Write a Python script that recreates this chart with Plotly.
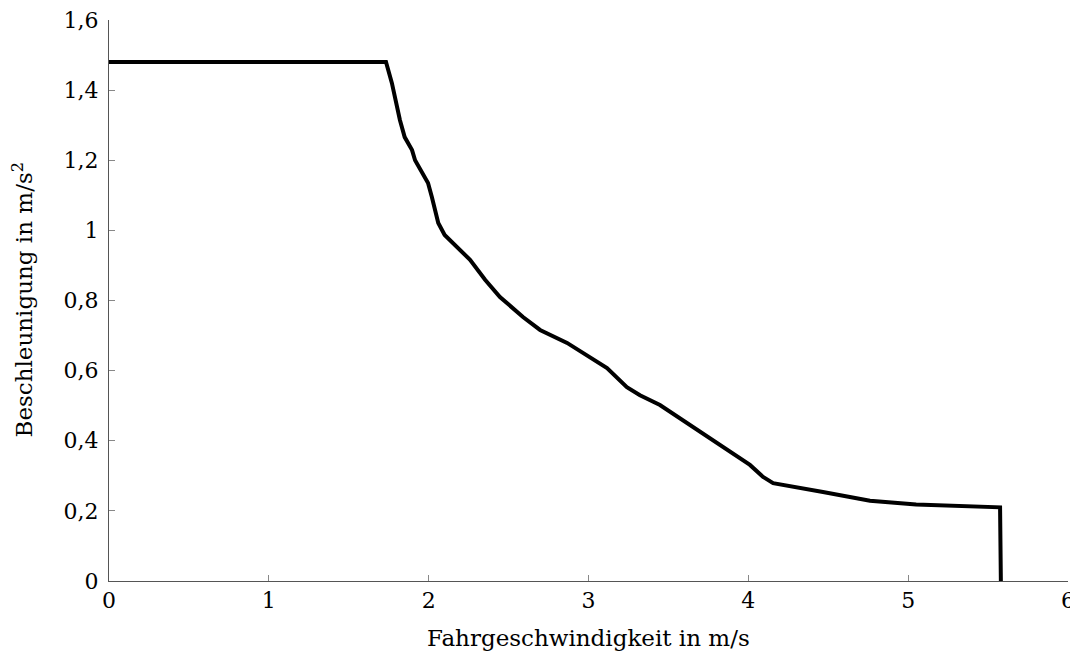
import plotly.graph_objects as go

speed = [0.0, 1.733, 1.77, 1.82, 1.85, 1.896, 1.915, 1.996, 2.02, 2.06, 2.10, 2.196,
         2.259, 2.353, 2.446, 2.59, 2.697, 2.866, 3.01, 3.116, 3.24, 3.322, 3.447,
         3.635, 3.842, 4.01, 4.092, 4.155, 4.467, 4.761, 5.05, 5.57, 5.575, 5.58]
accel = [1.48, 1.48, 1.42, 1.315, 1.266, 1.229, 1.20, 1.135, 1.095, 1.021, 0.987, 0.944,
         0.916, 0.859, 0.810, 0.753, 0.716, 0.679, 0.639, 0.607, 0.553, 0.530, 0.502,
         0.445, 0.382, 0.331, 0.297, 0.279, 0.254, 0.229, 0.218, 0.211, 0.21, 0.0]

x_ticks = [0, 1, 2, 3, 4, 5, 6]
x_labels = ["0", "1", "2", "3", "4", "5", "6"]
y_ticks = [0, 0.2, 0.4, 0.6, 0.8, 1.0, 1.2, 1.4, 1.6]
y_labels = ["0", "0,2", "0,4", "0,6", "0,8", "1", "1,2", "1,4", "1,6"]

font_family = "DejaVu Serif, Liberation Serif, serif"
fs = 22
title_fs = 23

fig = go.Figure()
fig.add_trace(go.Scatter(x=speed, y=accel, mode="lines",
                         line=dict(color="black", width=4), showlegend=False))

axis_common = dict(showgrid=False, zeroline=False, showline=True, linecolor="#555555",
                   linewidth=1, ticks="inside", ticklen=6, tickcolor="#888888", tickwidth=1,
                   automargin=False, ticklabeloverflow="allow",
                   tickfont=dict(family=font_family, size=fs, color="black"))

fig.update_xaxes(range=[0, 6], tickvals=x_ticks, ticktext=x_labels, ticklabelstandoff=0,
                 **axis_common)
fig.update_yaxes(range=[0, 1.6], tickvals=y_ticks, ticktext=y_labels, ticklabelstandoff=5,
                 **axis_common)

fig.add_annotation(text="Fahrgeschwindigkeit in m/s", xref="paper", yref="paper",
                   x=0.5, y=0, yshift=-57, showarrow=False, xanchor="center", yanchor="middle",
                   font=dict(family=font_family, size=title_fs, color="black"))
fig.add_annotation(text="Beschleunigung in m/s<sup>2</sup>", xref="paper", yref="paper",
                   x=0, y=0.5, xshift=-87, textangle=-90, showarrow=False,
                   xanchor="center", yanchor="middle",
                   font=dict(family=font_family, size=title_fs, color="black"))

fig.update_layout(width=1070, height=643, plot_bgcolor="white", paper_bgcolor="white",
                  margin=dict(l=101, r=10, t=12, b=70))

fig.write_html("out.html")
